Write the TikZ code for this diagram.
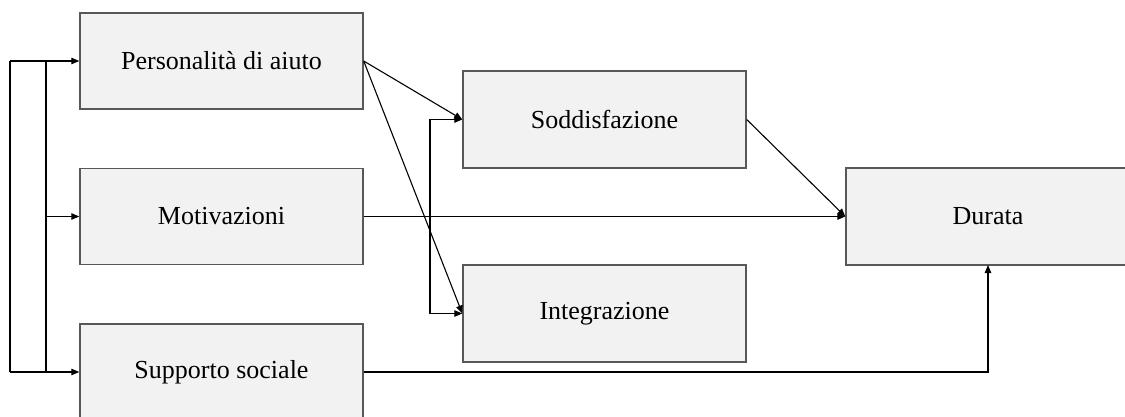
\documentclass[tikz,border=0pt]{standalone}
\usepackage{fontspec}
\setmainfont{Liberation Serif}
\usetikzlibrary{arrows.meta}
\definecolor{boxfill}{RGB}{242,242,242}
\definecolor{boxline}{RGB}{88,88,88}
\begin{document}
\begin{tikzpicture}[x=1pt,y=-1pt,
  box/.style={draw=boxline, line width=1.4pt, fill=boxfill, rectangle,
    minimum width=283pt, minimum height=96pt, inner sep=0pt,
    font=\fontsize{26}{30}\selectfont},
  link/.style={draw=black, line width=1.1pt},
  arr/.style={link, -{Triangle[length=8pt,width=6.5pt]}}]
  \useasboundingbox (0,0) rectangle (1125,417);
  \clip (0,0) rectangle (1125,417);
  \fill[white] (0,0) rectangle (1125,417);

  % predictors
  \node[box] (P) at (221.5,61)   {Personalità di aiuto};
  \node[box] (M) at (221.5,216.5) {Motivazioni};
  \node[box] (S) at (221.5,372)  {Supporto sociale};
  % mediators
  \node[box, minimum height=97pt] (Sod) at (604.5,119.5) {Soddisfazione};
  \node[box, minimum height=97pt] (Int) at (604.5,313.5) {Integrazione};
  % outcome (runs past the right margin)
  \node[box, minimum width=300pt, minimum height=97pt] (Dur) at (996,216.5) {};
  \node[font=\fontsize{26}{30}\selectfont, inner sep=0pt] (DurT) at (988,216.5) {Durata};
  \coordinate (DurIn) at (988,265);

  % left-hand brackets feeding the predictors
  \coordinate (oT) at (10,61);
  \coordinate (oB) at (10,372);
  \coordinate (iT) at (46,61);
  \coordinate (iB) at (46,372);
  \coordinate (iM) at (46,216.5);
  \draw[link] (oT) -- (oB);
  \draw[link] (iT) -- (iB);
  \draw[arr] (oT) -- (P.west);
  \draw[arr] (oB) -- (S.west);
  \draw[arr] (iM) -- (M.west);

  % personality to mediators
  \draw[arr] (P.east) -- (Sod.west);
  \draw[arr] (P.east) -- (Int.west);

  % motivations to outcome and to both mediators
  \draw[arr] (M.east) -- (Dur.west);
  \coordinate (j) at (430,216.5);
  \draw[arr] (j) |- (Sod.west);
  \draw[arr] (j) |- (Int.west);

  % satisfaction and social support to outcome
  \draw[arr] (Sod.east) -- (Dur.west);
  \draw[arr] (S.east) -| (DurIn);
\end{tikzpicture}
\end{document}
